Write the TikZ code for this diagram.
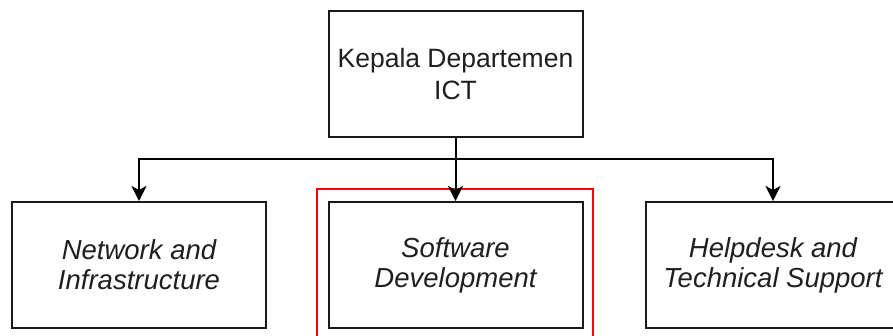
\documentclass[tikz,border=0pt]{standalone}
\usepackage{fontspec}
\setmainfont{Liberation Sans}
\usetikzlibrary{arrows.meta}
\begin{document}
\begin{tikzpicture}[x=1pt,y=-1pt,
  box/.style={draw=black!90, line width=2pt, minimum width=254pt, minimum height=126pt,
    align=center, inner sep=0pt, text=black!88, font=\fontsize{26.5}{32.5}\selectfont},
  sub/.style={box, font=\fontsize{27.5}{30}\selectfont\itshape},
  conn/.style={draw=black, line width=2pt, -{Stealth[width=15pt,length=15pt,inset=4pt]}},
  hl/.style={draw=red, line width=2.4pt, inner sep=0pt, minimum width=276pt, minimum height=170pt, anchor=north west}]
\clip (0,0) rectangle (893,336);
\fill[white] (0,0) rectangle (893,336);
\node[box] (head) at (455.5,74) {Kepala Departemen\\ICT};
\node[sub] (net) at (139,265) {Network and\\Infrastructure};
\node[sub] (soft) at (455.5,265) {Software\\Development};
\node[sub] (help) at (773,265) {Helpdesk and\\Technical Support};
\node[hl] (mark) at (316,188) {};
\coordinate (split) at (455.5,159);
\draw[conn] (head.south) -- (soft.north);
\draw[conn] (split) -| (net.north);
\draw[conn] (split) -| (help.north);
\end{tikzpicture}
\end{document}
